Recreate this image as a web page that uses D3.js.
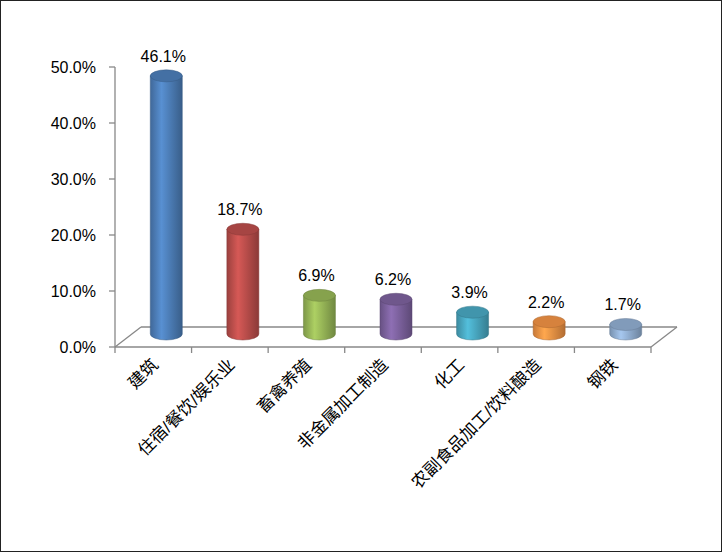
<!DOCTYPE html>
<html><head><meta charset="utf-8">
<script src="https://cdn.jsdelivr.net/npm/d3@7"></script>
<style>body{margin:0;background:#fff}text{font-family:"Liberation Sans","Noto Sans CJK SC",sans-serif}</style>
</head><body>
<script>
const categories = ["建筑", "住宿/餐饮/娱乐业", "畜禽养殖", "非金属加工制造", "化工", "农副食品加工/饮料酿造", "钢铁"];
const values = [46.1, 18.7, 6.9, 6.2, 3.9, 2.2, 1.7];
const colors = ["#4f81bd", "#c0504d", "#9bbb59", "#8064a2", "#4bacc6", "#f79646", "#95b3d7"];
const yTicks = [0, 10, 20, 30, 40, 50];

const W = 722, H = 552, dx = 26, dy = -20;
const svg = d3.select("body").append("svg").attr("width", W).attr("height", H);
svg.append("rect").attr("x", 0.5).attr("y", 0.5).attr("width", W - 1).attr("height", H - 1)
    .attr("fill", "#fff").attr("stroke", "#222");

const x = d3.scaleBand().domain(categories).range([115, 651]);
const y = d3.scaleLinear().domain([0, 50]).range([347, 67]);

const defs = svg.append("defs");
colors.forEach(function(c, i) {
    let g = defs.append("linearGradient").attr("id", "g" + i);
    let col = d3.color(c);
    g.append("stop").attr("offset", "0%").attr("stop-color", col.darker(0.6));
    g.append("stop").attr("offset", "35%").attr("stop-color", col.brighter(0.3));
    g.append("stop").attr("offset", "100%").attr("stop-color", col.darker(0.9));
});

const line = { stroke: "#888", "stroke-width": 1.3 };
function ln(x1, y1, x2, y2) {
    svg.append("line").attr("x1", x1).attr("y1", y1).attr("x2", x2).attr("y2", y2)
        .attr("stroke", line.stroke).attr("stroke-width", line["stroke-width"]);
}
// floor
ln(115, 347, 651, 347);
ln(115 + dx, 347 + dy, 651 + dx, 347 + dy);
ln(115, 347, 115 + dx, 347 + dy);
ln(651, 347, 651 + dx, 347 + dy);
// y axis
ln(115, y(0), 115, y(50));
yTicks.forEach(function(t) {
    ln(109, y(t), 115, y(t));
    svg.append("text").attr("x", 96).attr("y", y(t) + 6).attr("text-anchor", "end")
        .attr("font-size", 16).attr("fill", "#000").text(t.toFixed(1) + "%");
});
// x ticks
categories.forEach(function(c, i) {
    ln(x(c), 347, x(c), 353);
});
ln(651, 347, 651, 353);

const bw = 32, ry = 6;
categories.forEach(function(c, i) {
    let cx = x(c) + x.bandwidth() / 2 + dx / 2;
    let base = 347 + dy / 2 - 3;
    let top = base - (y(0) - y(values[i]));
    let g = svg.append("g");
    g.append("path")
        .attr("d", "M" + (cx - bw / 2) + "," + top + " L" + (cx - bw / 2) + "," + base +
            " A" + bw / 2 + "," + ry + " 0 0 0 " + (cx + bw / 2) + "," + base +
            " L" + (cx + bw / 2) + "," + top + " Z")
        .attr("fill", "url(#g" + i + ")").attr("stroke", d3.color(colors[i]).darker(1)).attr("stroke-width", 0.5);
    g.append("ellipse").attr("cx", cx).attr("cy", top).attr("rx", bw / 2).attr("ry", ry)
        .attr("fill", d3.color(colors[i]).darker(0.4)).attr("stroke", d3.color(colors[i]).darker(1)).attr("stroke-width", 0.5);
    svg.append("text").attr("x", cx - 3).attr("y", top - 14).attr("text-anchor", "middle")
        .attr("font-size", 16).attr("fill", "#000").text(values[i].toFixed(1) + "%");
    let lx = x(c) + x.bandwidth() / 2 + 6, ly = 366;
    svg.append("text").attr("transform", "translate(" + lx + "," + ly + ") rotate(-45)")
        .attr("text-anchor", "end").attr("font-size", 17).attr("fill", "#000").text(c);
});
</script>
</body></html>
